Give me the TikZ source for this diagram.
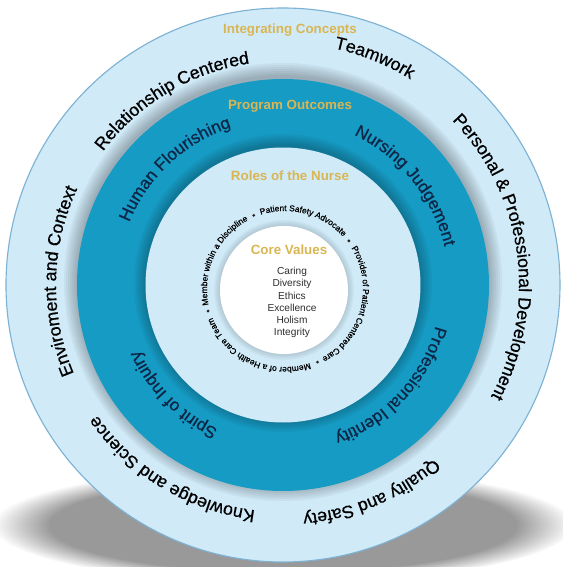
\documentclass[tikz,border=0pt]{standalone}
\usepackage{fontspec}
\setmainfont{Liberation Sans}
\newfontfamily\heavysans[FakeBold=0.7]{Liberation Sans}
\usetikzlibrary{decorations.text, fadings}

\definecolor{ringlight}{RGB}{208,234,247}
\definecolor{ringedge}{RGB}{125,178,212}
\definecolor{outcometeal}{RGB}{22,155,196}
\definecolor{navytext}{RGB}{14,38,70}
\definecolor{goldtext}{RGB}{218,182,82}
\definecolor{valuetext}{RGB}{45,45,45}

\newcommand\outerfont{\heavysans\fontsize{12.6}{15}\selectfont}
\newcommand\tealfont{\heavysans\fontsize{12.2}{15}\selectfont}
\newcommand\rolefont{\heavysans\fontsize{6}{7}\selectfont}
\newcommand\titlefont{\fontsize{9.5}{11}\selectfont\bfseries}
\newcommand\valuefont{\fontsize{7.2}{8.7}\selectfont}

\pgfdeclareradialshading{corefade}{\pgfpoint{0cm}{0cm}}{color(0bp)=(white); color(30bp)=(white); color(50bp)=(black!28)}

\tikzset{
  ringtext/.style={decorate, decoration={text along path, text align=center, text={#1}}},
  ringtitle/.style={text=goldtext, font=\titlefont, inner sep=0pt},
  rolebullet/.style={circle, fill=black!85, inner sep=0pt, minimum size=2.2pt}
}

\begin{document}
\begin{tikzpicture}[x=0.025cm, y=0.025cm]
            \useasboundingbox (-283,-282) rectangle (280,285);
            \fill[white] (-283,-282) rectangle (280,285);

            % Drop shadow under the wheel
            \fill[black!40, path fading=circle with fuzzy edge 20 percent] (0,-240) ellipse (290 and 58);

            % Integrating concepts - outer light ring
            \draw[fill=ringlight, draw=ringedge, line width=0.8pt] (0,0) circle[radius=277];
            \foreach \i in {1,...,7}
              \fill[black, opacity=0.04] (0,3) circle[radius=205+2*\i];

            % Program outcomes - teal ring
            \fill[outcometeal] (0,0) circle[radius=206];
            \foreach \i in {1,...,6}
              \fill[black, opacity=0.04] (0,2) circle[radius=137+2*\i];

            % Roles of the nurse - inner light ring
            \fill[ringlight] (0,0) circle[radius=137.5];
            \foreach \i in {1,...,4}
              \fill[black, opacity=0.03] (1,-5) circle[radius=64+1.5*\i];

            % Core values - white centre
            \shade[shading=corefade] (1,-5) circle[radius=64];

            % Titles
            \node[ringtitle] (integrating) at (7,255) {Integrating Concepts};
            \node[ringtitle] (outcomes) at (7,179) {Program Outcomes};
            \node[ringtitle] (roles) at (7,109) {Roles of the Nurse};
            \node[ringtitle] (core) at (6,35) {Core Values};
            \node[text=valuetext, font=\valuefont, align=center, inner sep=0pt] (values) at (9,-17.5)
              {Caring\\Diversity\\Ethics\\Excellence\\Holism\\Integrity};

            % Outer ring labels
            \path[ringtext={|\outerfont|Relationship Centered}] (161:224) arc[start angle=161, end angle=81, radius=224];
            \path[ringtext={|\outerfont|Teamwork}] (88:242) arc[start angle=88, end angle=48, radius=242];
            \path[ringtext={|\outerfont|Personal {\&} Professional Development}] (58:236) arc[start angle=58, end angle=-42, radius=236];
            \path[ringtext={|\outerfont|Quality and Safety}] (-33:230) arc[start angle=-33, end angle=-101, radius=230];
            \path[ringtext={|\outerfont|Knowledge and Science}] (-86:227) arc[start angle=-86, end angle=-156, radius=227];
            \path[ringtext={|\outerfont|Enviroment and Context}] (220:227) arc[start angle=220, end angle=138, radius=227];

            % Teal ring labels
            \path[ringtext={|\tealfont\color{navytext}|Human Flourishing}] (178:166) arc[start angle=178, end angle=88, radius=166];
            \path[ringtext={|\tealfont\color{navytext}|Nursing Judgement}] (84:166) arc[start angle=84, end angle=-6, radius=166];
            \path[ringtext={|\tealfont\color{navytext}|Professional Identity}] (3:158) arc[start angle=3, end angle=-89, radius=158];
            \path[ringtext={|\tealfont\color{navytext}|Spirit of Inquiry}] (-95:158) arc[start angle=-95, end angle=-175, radius=158];

            % Roles of the nurse around the core
            \begin{scope}[shift={(2,-4)}]
              \path[ringtext={|\rolefont|Member within a Discipline}] (205:78) arc[start angle=205, end angle=105, radius=78];
              \path[ringtext={|\rolefont|Patient Safety Advocate}] (120:78) arc[start angle=120, end angle=30, radius=78];
              \path[ringtext={|\rolefont|Provider of Patient Centered Care}] (45:78) arc[start angle=45, end angle=-75, radius=78];
              \path[ringtext={|\rolefont|Member of a Health Care Team}] (-55:78) arc[start angle=-55, end angle=-175, radius=78];
              \node[rolebullet] (bullet1) at (113:80) {};
              \node[rolebullet] (bullet2) at (37:80) {};
              \node[rolebullet] (bullet3) at (-66:80) {};
              \node[rolebullet] (bullet4) at (196:80) {};
            \end{scope}
        \end{tikzpicture}
\end{document}
